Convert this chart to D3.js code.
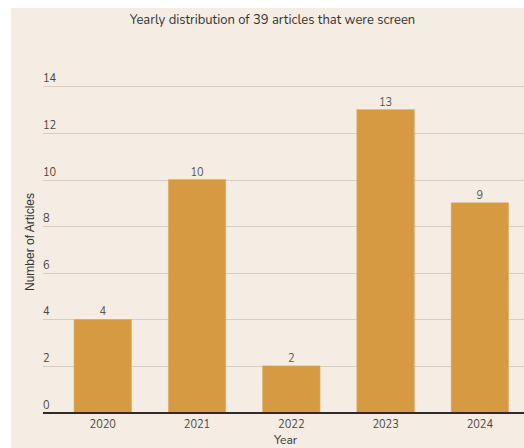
<!DOCTYPE html>
<html>
<head>
<meta charset="utf-8">
<script src="https://cdn.jsdelivr.net/npm/d3@7"></script>
<style>
  html, body { margin: 0; padding: 0; background: #ffffff; }
  svg { display: block; }
</style>
</head>
<body>
<svg id="chart" width="524" height="448"></svg>
<script>
const years = ["2020", "2021", "2022", "2023", "2024"];
const counts = [4, 10, 2, 13, 9];
const yTicks = [0, 2, 4, 6, 8, 10, 12, 14];
const titleText = "Yearly distribution of 39 articles that were screen";
const xLabel = "Year";
const yLabel = "Number of Articles";

const svg = d3.select("#chart");
const W = 524, H = 448;
const font = "Nunito, Lato, 'Open Sans', sans-serif";

svg.append("rect").attr("x", 11).attr("y", 8).attr("width", W - 11).attr("height", H - 8)
  .attr("fill", "#f5ede3");

const gridLeft = 43, gridRight = 530;
const x = d3.scaleBand().domain(years).range([55.6, 527])
  .paddingInner(0.39).paddingOuter(0.195);
const y = d3.scaleLinear().domain([0, 14]).range([412.5, 86.3]);

// gridlines
svg.append("g").selectAll("line").data(yTicks.filter(d => d > 0)).join("line")
  .attr("x1", gridLeft).attr("x2", gridRight)
  .attr("y1", d => Math.round(y(d)) + 0.5).attr("y2", d => Math.round(y(d)) + 0.5)
  .attr("stroke", "#d6cdc3").attr("stroke-width", 1);

// y tick labels
svg.append("g").selectAll("text").data(yTicks).join("text")
  .attr("x", gridLeft).attr("y", d => y(d) - 4)
  .attr("font-family", font).attr("font-size", 11).attr("fill", "#4a4440")
  .text(d => d);

// bars
svg.append("g").selectAll("rect").data(years).join("rect")
  .attr("x", d => x(d)).attr("width", x.bandwidth())
  .attr("y", (d, i) => y(counts[i])).attr("height", (d, i) => y(0) - y(counts[i]))
  .attr("fill", "#d69a42").attr("stroke", "#e4b073").attr("stroke-width", 0.6);

// value labels
svg.append("g").selectAll("text").data(years).join("text")
  .attr("x", d => x(d) + x.bandwidth() / 2).attr("y", (d, i) => y(counts[i]) - 4)
  .attr("text-anchor", "middle")
  .attr("font-family", font).attr("font-size", 11).attr("fill", "#5a5450")
  .text((d, i) => counts[i]);

// baseline
svg.append("line").attr("x1", gridLeft).attr("x2", gridRight)
  .attr("y1", 413).attr("y2", 413).attr("stroke", "#2e2a27").attr("stroke-width", 2);

// x axis labels
const xAxis = d3.axisBottom(x).tickSize(0).tickPadding(6);
const gx = svg.append("g").attr("transform", "translate(0,414)").call(xAxis);
gx.select(".domain").remove();
gx.selectAll("text").attr("font-family", font).attr("font-size", 11).attr("fill", "#4a4440");

// title
svg.append("text").attr("x", 272.5).attr("y", 24).attr("text-anchor", "middle")
  .attr("font-family", font).attr("font-size", 13).attr("fill", "#333")
  .text(titleText);

// axis titles
svg.append("text").attr("x", 285.5).attr("y", 444).attr("text-anchor", "middle")
  .attr("font-family", font).attr("font-size", 12).attr("fill", "#333")
  .text(xLabel);
svg.append("text").attr("transform", "translate(34,242) rotate(-90)").attr("text-anchor", "middle")
  .attr("font-family", "'Liberation Sans', Arial, sans-serif").attr("font-size", 12).attr("fill", "#333")
  .text(yLabel);
</script>
</body>
</html>
